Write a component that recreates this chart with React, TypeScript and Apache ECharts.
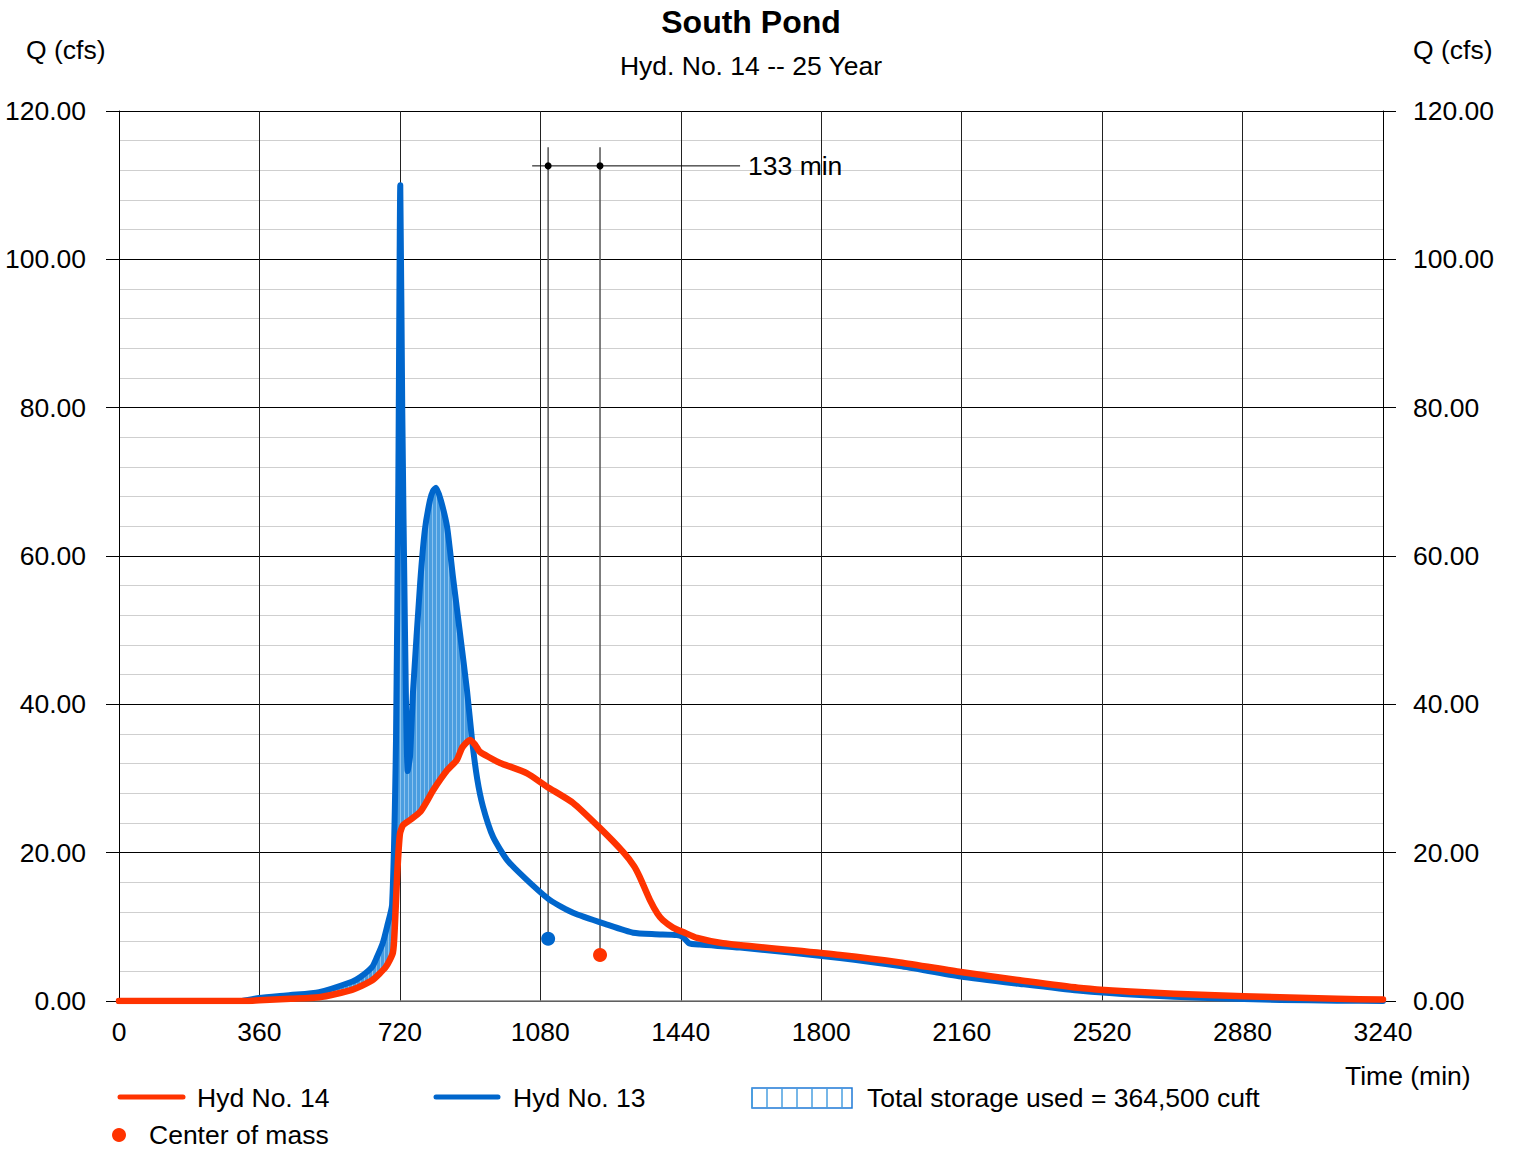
import React, { useEffect, useRef } from "react";
import * as echarts from "echarts";

// Hyd No. 13 (inflow) — [time (min), Q (cfs)]
const hyd13: [number, number][] = [
  [0, 0], [310, 0], [359, 0.4], [440, 0.8], [513, 1.2], [597, 2.6], [618, 3.2], [649, 4.6],
  [661, 5.9], [676, 7.8], [687, 10], [700, 13], [710, 35], [716, 70], [721, 110], [726, 80],
  [733, 50], [740, 31], [746, 33], [754, 42], [772, 56.4], [784, 63.5], [797, 67.5], [805, 68.8],
  [813, 69.2], [825, 67.5], [841, 63.9], [856, 57.2], [874, 49.6], [892, 41.9], [905, 35.2],
  [918, 30], [933, 26.2], [959, 22.1], [995, 19], [1046, 16.3], [1105, 13.6], [1164, 11.9],
  [1251, 10.3], [1318, 9.2], [1374, 9.0], [1430, 8.9], [1446, 8.6], [1461, 7.8], [1489, 7.6],
  [1592, 7.2], [1848, 5.8], [2002, 4.7], [2158, 3.3], [2310, 2.3], [2458, 1.4], [2617, 0.8],
  [2791, 0.4], [2976, 0.15], [3122, 0.05], [3240, 0],
];

// Hyd No. 14 (outflow) — [time (min), Q (cfs)]
const hyd14: [number, number][] = [
  [0, 0], [330, 0], [359, 0.1], [440, 0.3], [513, 0.5], [597, 1.5], [649, 2.8], [684, 4.6],
  [702, 6.5], [707, 10], [713, 17], [720, 22.5], [728, 23.7], [746, 24.4], [772, 25.5],
  [790, 27], [805, 28.4], [841, 31.1], [866, 32.5], [880, 34.2], [900, 35.2], [912, 34.6],
  [925, 33.6], [951, 32.8], [977, 32.1], [1046, 30.7], [1097, 28.9], [1164, 26.7], [1233, 23.3],
  [1292, 20.1], [1320, 18.2], [1335, 16.7], [1361, 13.6], [1380, 11.8], [1394, 10.9],
  [1420, 9.9], [1446, 9.3], [1482, 8.5], [1548, 7.8], [1848, 6.2], [2002, 5.2], [2158, 3.9],
  [2310, 2.8], [2458, 1.8], [2617, 1.2], [2791, 0.8], [2976, 0.5], [3122, 0.3], [3240, 0.2],
];

// Centers of mass
const centerInflow: [number, number] = [1100, 8.4];
const centerOutflow: [number, number] = [1233, 6.2];
const lagLineQ = 112.6;
const lagTopQ = 115.1;
const lagLineT: [number, number] = [1059, 1592];
const lagLabel = "133 min";

const storageEndInflowT = 905;
const storageEndOutflowT = 900;

const xTicks = { min: 0, max: 3240, interval: 360 };
const yTicks = { min: 0, max: 120, interval: 20 };

const RED = "#ff3300";
const BLUE = "#0066cc";
const FONT = "'Liberation Sans', Arial, Helvetica, sans-serif";
const FS = 26.5;

const stripeSvg =
  "data:image/svg+xml;utf8," +
  encodeURIComponent(
    "<svg xmlns='http://www.w3.org/2000/svg' width='4' height='4'>" +
      "<rect x='0' y='0' width='4' height='4' fill='#4a9de0'/>" +
      "<rect x='0' y='0' width='1' height='4' fill='#8cc3ef'/>" +
      "</svg>"
  );

export default function App() {
  const ref = useRef<HTMLDivElement>(null);

  useEffect(() => {
    if (!ref.current) return;
    const chart = echarts.init(ref.current, undefined, { renderer: "svg" });

    const storagePoly: [number, number][] = [
      ...hyd13.filter((p) => p[0] <= storageEndInflowT),
      ...hyd14.filter((p) => p[0] <= storageEndOutflowT).slice().reverse(),
    ];

    const legendBoxLines: any[] = [];
    for (let x = 752; x <= 852; x += 15) {
      legendBoxLines.push({
        type: "line",
        shape: { x1: x, y1: 1088, x2: x, y2: 1108 },
        style: { stroke: "#4a9fe0", lineWidth: 1.5 },
      });
    }

    const textStyle = { fontFamily: FONT, fontSize: FS, fill: "#000" };

    chart.setOption({
      animation: false,
      backgroundColor: "#fff",
      textStyle: { fontFamily: FONT },
      grid: { left: 119, top: 111, width: 1264, height: 890, containLabel: false },
      xAxis: {
        type: "value",
        min: xTicks.min,
        max: xTicks.max,
        interval: xTicks.interval,
        axisLine: { show: true, lineStyle: { color: "#808080", width: 1.5 } },
        axisTick: { show: false },
        axisLabel: {
          color: "#000",
          fontSize: FS,
          fontFamily: FONT,
          margin: 17,
          formatter: (v: number) => String(v),
        },
        splitLine: { show: true, lineStyle: { color: "#222", width: 1 } },
      },
      yAxis: [
        {
          type: "value",
          min: yTicks.min,
          max: yTicks.max,
          interval: yTicks.interval,
          position: "left",
          axisLine: { show: true, lineStyle: { color: "#000", width: 1 } },
          axisTick: { show: true, length: 13, lineStyle: { color: "#000" } },
          axisLabel: {
            color: "#000",
            fontSize: FS,
            fontFamily: FONT,
            margin: 33,
            formatter: (v: number) => v.toFixed(2),
          },
          splitLine: { show: true, lineStyle: { color: "#000", width: 1 } },
          minorTick: { show: false, splitNumber: 5 },
          minorSplitLine: { show: true, lineStyle: { color: "#cfcfcf", width: 1.2 } },
        },
        {
          type: "value",
          min: yTicks.min,
          max: yTicks.max,
          interval: yTicks.interval,
          position: "right",
          axisLine: { show: true, lineStyle: { color: "#000", width: 1 } },
          axisTick: { show: true, length: 13, lineStyle: { color: "#000" } },
          axisLabel: {
            color: "#000",
            fontSize: FS,
            fontFamily: FONT,
            margin: 30,
            formatter: (v: number) => v.toFixed(2),
          },
          splitLine: { show: false },
        },
      ],
      series: [
        {
          type: "custom",
          name: "Total storage used",
          data: [[0, 0]],
          z: 1,
          renderItem: (params: any, api: any) => {
            const pts = storagePoly.map((p) => api.coord(p));
            return {
              type: "polygon",
              shape: { points: pts, smooth: 0.2 },
              style: {
                fill: { image: stripeSvg, repeat: "repeat", imageWidth: 4, imageHeight: 4 },
                lineWidth: 0,
              },
            };
          },
        },
        {
          type: "line",
          name: "Hyd No. 13",
          data: hyd13,
          symbol: "none",
          smooth: 0.2,
          z: 3,
          lineStyle: { color: BLUE, width: 6, join: "round", cap: "round" },
        },
        {
          type: "line",
          name: "Hyd No. 14",
          data: hyd14,
          symbol: "none",
          smooth: 0.2,
          z: 4,
          lineStyle: { color: RED, width: 6.5, join: "round", cap: "round" },
        },
        {
          type: "line",
          data: [[centerInflow[0], centerInflow[1]], [centerInflow[0], lagTopQ]],
          symbol: "none",
          z: 2,
          lineStyle: { color: "#555", width: 1.5 },
        },
        {
          type: "line",
          data: [[centerOutflow[0], centerOutflow[1]], [centerOutflow[0], lagTopQ]],
          symbol: "none",
          z: 2,
          lineStyle: { color: "#555", width: 1.5 },
        },
        {
          type: "line",
          data: [[lagLineT[0], lagLineQ], [lagLineT[1], lagLineQ]],
          symbol: "none",
          z: 2,
          lineStyle: { color: "#000", width: 1 },
        },
        {
          type: "scatter",
          data: [[centerInflow[0], lagLineQ], [centerOutflow[0], lagLineQ]],
          symbol: "circle",
          symbolSize: 7,
          z: 5,
          itemStyle: { color: "#000", opacity: 1 },
        },
        {
          type: "scatter",
          data: [[lagLineT[1], lagLineQ]],
          symbolSize: 0,
          z: 5,
          itemStyle: { opacity: 1 },
          label: {
            show: true,
            position: "right",
            distance: 8,
            formatter: lagLabel,
            color: "#000",
            opacity: 1,
            fontSize: FS,
            fontFamily: FONT,
          },
        },
        {
          type: "scatter",
          data: [centerInflow],
          symbolSize: 14,
          z: 6,
          itemStyle: { color: BLUE, opacity: 1 },
        },
        {
          type: "scatter",
          data: [centerOutflow],
          symbolSize: 14,
          z: 6,
          itemStyle: { color: RED, opacity: 1 },
        },
      ],
      graphic: [
        {
          type: "text",
          x: 751,
          y: 22,
          style: { text: "South Pond", fontFamily: FONT, fontSize: 32, fontWeight: "bold", fill: "#000", align: "center", verticalAlign: "middle" },
        },
        {
          type: "text",
          x: 751,
          y: 66,
          style: { text: "Hyd. No. 14 -- 25 Year", ...textStyle, align: "center", verticalAlign: "middle" },
        },
        {
          type: "text",
          x: 26,
          y: 50,
          style: { text: "Q (cfs)", ...textStyle, align: "left", verticalAlign: "middle" },
        },
        {
          type: "text",
          x: 1413,
          y: 50,
          style: { text: "Q (cfs)", ...textStyle, align: "left", verticalAlign: "middle" },
        },
        {
          type: "text",
          x: 1345,
          y: 1076,
          style: { text: "Time (min)", ...textStyle, align: "left", verticalAlign: "middle" },
        },
        {
          type: "line",
          shape: { x1: 120, y1: 1097, x2: 183, y2: 1097 },
          style: { stroke: RED, lineWidth: 5, lineCap: "round" },
        },
        {
          type: "text",
          x: 197,
          y: 1098,
          style: { text: "Hyd No. 14", ...textStyle, align: "left", verticalAlign: "middle" },
        },
        {
          type: "line",
          shape: { x1: 436, y1: 1097, x2: 498, y2: 1097 },
          style: { stroke: BLUE, lineWidth: 5, lineCap: "round" },
        },
        {
          type: "text",
          x: 513,
          y: 1098,
          style: { text: "Hyd No. 13", ...textStyle, align: "left", verticalAlign: "middle" },
        },
        {
          type: "rect",
          shape: { x: 752, y: 1088, width: 100, height: 20 },
          style: { fill: "#fff", stroke: "#1f7ad6", lineWidth: 1.5 },
        },
        ...legendBoxLines,
        {
          type: "text",
          x: 867,
          y: 1098,
          style: { text: "Total storage used = 364,500 cuft", ...textStyle, align: "left", verticalAlign: "middle" },
        },
        {
          type: "circle",
          shape: { cx: 119, cy: 1135, r: 7 },
          style: { fill: RED },
        },
        {
          type: "text",
          x: 149,
          y: 1135,
          style: { text: "Center of mass", ...textStyle, align: "left", verticalAlign: "middle" },
        },
      ],
    });

    return () => chart.dispose();
  }, []);

  return (
    <div
      ref={ref}
      style={{ position: "fixed", left: 0, top: 0, width: 1513, height: 1149, background: "#fff" }}
    />
  );
}
